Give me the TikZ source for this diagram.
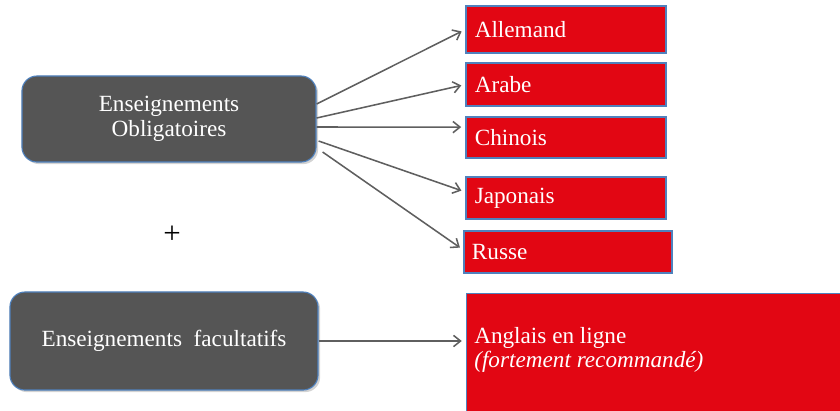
\documentclass[tikz,border=0pt]{standalone}
\usepackage{fontspec}
\setmainfont{Liberation Serif}
\usetikzlibrary{arrows.meta, positioning, shadows}
\definecolor{boxgray}{RGB}{85,85,85}
\definecolor{langred}{RGB}{226,6,19}
\definecolor{edgeblue}{RGB}{79,129,189}
\definecolor{arrgray}{RGB}{95,95,95}
\tikzstyle{every node}=[font=\fontsize{16.5}{20}\selectfont]
\tikzstyle{group}=[draw=edgeblue,line width=0.8pt,fill=boxgray,rounded corners=0.375cm,
  text=white,align=center,drop shadow={opacity=0.35,shadow xshift=1.5pt,shadow yshift=-1.5pt}]
\tikzstyle{lang}=[draw=edgeblue,line width=0.8pt,fill=langred,rectangle,text=white,
  inner xsep=0.22cm,align=left,minimum width=5cm,text width=4.56cm,
  drop shadow={opacity=0.25,shadow xshift=1pt,shadow yshift=-1pt}]
\tikzstyle{arr}=[draw=arrgray,line width=1.1pt,-{Straight Barb[length=5pt,width=8pt]},shorten >=3pt]

\begin{document}
\begin{tikzpicture}[x=0.025cm,y=-0.025cm]
  \useasboundingbox (0,0) rectangle (840,410);
  \node[group, minimum width=7.35cm, minimum height=2.15cm] (ob) at (169,119)
    {Enseignements\\[-2pt]Obligatoires};
  \node[group, minimum width=7.7cm, minimum height=2.45cm] (fa) at (164,341)
    {Enseignements\ \ facultatifs};
  \node[font=\fontsize{22}{24}\selectfont] at (172,235) (plus) {+};
  \node[lang, minimum height=1.175cm] (al) at (566,29.5) {Allemand};
  \node[lang, minimum height=1.075cm] (ar) at (566,84.5) {Arabe};
  \node[lang, minimum height=1.025cm] (ch) at (566,137.5) {Chinois};
  \node[lang, minimum height=1.05cm] (ja) at (566,198) {Japonais};
  \node[lang, minimum height=1.05cm, minimum width=5.2cm, text width=4.8cm, inner xsep=0.2cm] (ru) at (568,252) {Russe};
  \node[lang, minimum width=9.5cm, text width=9.06cm, minimum height=3.2cm, anchor=north west] (an) at (466,293) {};
  \node[anchor=west, text=white, align=left, inner sep=0pt] (antxt) at (474,350)
    {Anglais en ligne\\[-3pt]\textit{(fortement recommandé)}};
  % fleches
  \draw[arr] ([yshift=0.375cm]ob.east) -- (al.west);
  \draw[arr] ([yshift=0.025cm]ob.east) -- (ar.west);
  \draw[arr] ([yshift=-0.2cm]ob.east) -- ([yshift=0.26cm]ch.west);
  \draw[arr] ([xshift=0.05cm,yshift=-0.55cm]ob.east) -- ([yshift=0.15cm]ja.west);
  \draw[arr] ([xshift=0.15cm,yshift=-0.825cm]ob.east) -- ([yshift=0.05cm]ru.west);
  \draw[arr] (fa.east) -- (an.west |- fa.east);
\end{tikzpicture}
\end{document}
